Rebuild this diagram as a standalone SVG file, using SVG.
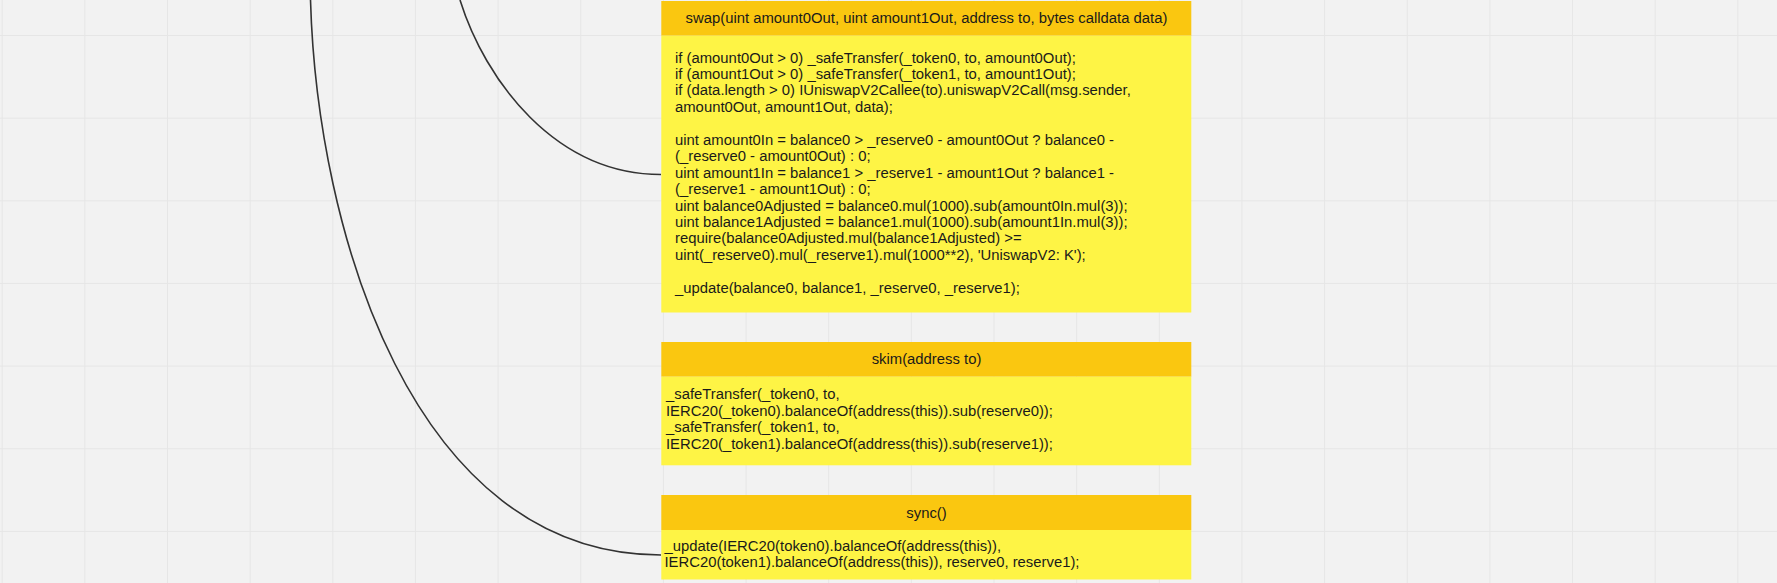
<svg xmlns="http://www.w3.org/2000/svg" width="1777" height="583" viewBox="0 0 1777 583">
<defs>
<pattern id="grid" x="1.7" y="35" width="82.65" height="82.65" patternUnits="userSpaceOnUse">
<path d="M0.5,0 V82.65 M0,0.5 H82.65" fill="none" stroke="#e6e6e6" stroke-width="1"/>
</pattern>
</defs>
<style>
.hdr{fill:#fac710}
.body{fill:#fef445}
.t{font-family:"Liberation Sans",Arial,sans-serif;font-size:14.85px;fill:#1a1a1a}
.c{text-anchor:middle}
.conn{fill:none;stroke:#333333;stroke-width:1.6}
</style>
<rect width="1777" height="583" fill="#f2f2f2"/>
<rect width="1777" height="583" fill="url(#grid)"/>
<g id="connectors">
<path class="conn" d="M460,0 C485,80 554.7,174.5 661,174.5"/>
<path class="conn" d="M310.5,0 C317,230 412,555 661,555"/>
</g>
<g id="swap">
<rect class="hdr" x="661.3" y="1" width="530" height="34.7"/>
<rect class="body" x="661.3" y="35.7" width="530" height="276.8"/>
<text class="t c" x="926.5" y="23">swap(uint amount0Out, uint amount1Out, address to, bytes calldata data)</text>
<text class="t" xml:space="preserve">
<tspan x="675" y="62.5">if (amount0Out &gt; 0) _safeTransfer(_token0, to, amount0Out);</tspan>
<tspan x="675" y="78.95">if (amount1Out &gt; 0) _safeTransfer(_token1, to, amount1Out);</tspan>
<tspan x="675" y="95.4">if (data.length &gt; 0) IUniswapV2Callee(to).uniswapV2Call(msg.sender,</tspan>
<tspan x="675" y="111.85">amount0Out, amount1Out, data);</tspan>
<tspan x="675" y="144.75">uint amount0In = balance0 &gt; _reserve0 - amount0Out ? balance0 -</tspan>
<tspan x="675" y="161.2">(_reserve0 - amount0Out) : 0;</tspan>
<tspan x="675" y="177.65">uint amount1In = balance1 &gt; _reserve1 - amount1Out ? balance1 -</tspan>
<tspan x="675" y="194.1">(_reserve1 - amount1Out) : 0;</tspan>
<tspan x="675" y="210.55">uint balance0Adjusted = balance0.mul(1000).sub(amount0In.mul(3));</tspan>
<tspan x="675" y="227">uint balance1Adjusted = balance1.mul(1000).sub(amount1In.mul(3));</tspan>
<tspan x="675" y="243.45">require(balance0Adjusted.mul(balance1Adjusted) &gt;=</tspan>
<tspan x="675" y="259.9">uint(_reserve0).mul(_reserve1).mul(1000**2), 'UniswapV2: K');</tspan>
<tspan x="675" y="292.8">_update(balance0, balance1, _reserve0, _reserve1);</tspan>
</text>
</g>
<g id="skim">
<rect class="hdr" x="661.3" y="342" width="530" height="34.7"/>
<rect class="body" x="661.3" y="376.7" width="530" height="88.6"/>
<text class="t c" x="926.5" y="364.3">skim(address to)</text>
<text class="t">
<tspan x="666" y="399">_safeTransfer(_token0, to,</tspan>
<tspan x="666" y="415.5">IERC20(_token0).balanceOf(address(this)).sub(reserve0));</tspan>
<tspan x="666" y="432">_safeTransfer(_token1, to,</tspan>
<tspan x="666" y="448.5">IERC20(_token1).balanceOf(address(this)).sub(reserve1));</tspan>
</text>
</g>
<g id="sync">
<rect class="hdr" x="661.3" y="495" width="530" height="35"/>
<rect class="body" x="661.3" y="530" width="530" height="49.5"/>
<text class="t c" x="926.5" y="517.7">sync()</text>
<text class="t">
<tspan x="664.5" y="550.5">_update(IERC20(token0).balanceOf(address(this)),</tspan>
<tspan x="664.5" y="567">IERC20(token1).balanceOf(address(this)), reserve0, reserve1);</tspan>
</text>
</g>
</svg>
